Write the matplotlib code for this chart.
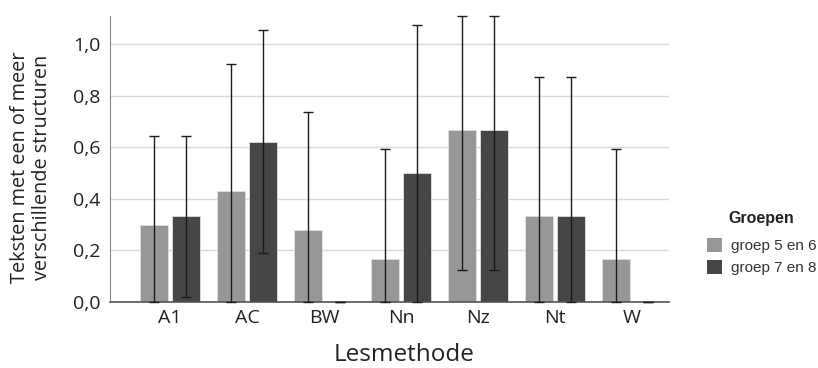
import matplotlib
matplotlib.use("Agg")
import matplotlib.pyplot as plt
import numpy as np
from matplotlib.patches import Patch

categories = ["A1", "AC", "BW", "Nn", "Nz", "Nt", "W"]
groups = ["groep 5 en 6", "groep 7 en 8"]
g56 = [0.30, 0.43, 0.28, 0.167, 0.667, 0.333, 0.167]
g78 = [0.333, 0.62, 0.0, 0.50, 0.667, 0.333, 0.0]
g56_lo = [0.0, 0.0, 0.0, 0.0, 0.124, 0.0, 0.0]
g56_hi = [0.643, 0.921, 0.736, 0.593, 1.108, 0.872, 0.593]
g78_lo = [0.02, 0.191, 0.0, 0.0, 0.124, 0.0, 0.0]
g78_hi = [0.643, 1.055, 0.0, 1.074, 1.108, 0.872, 0.0]
yticks = [0.0, 0.2, 0.4, 0.6, 0.8, 1.0]
ytick_labels = ["0,0", "0,2", "0,4", "0,6", "0,8", "1,0"]

plt.rcParams['font.family'] = ['Open Sans', 'DejaVu Sans']

fig = plt.figure(figsize=(8.18, 3.68), dpi=100)
ax = fig.add_axes([110/818, 1-302/368, (669-110)/818, (302-16)/368])

x = np.arange(len(categories))
off = 0.208
w = 0.367
colors = ["#989696", "#464648"]
for vals, lo, hi, sgn, c, lab in [(g56, g56_lo, g56_hi, -1, colors[0], groups[0]),
                                  (g78, g78_lo, g78_hi, 1, colors[1], groups[1])]:
    xs = x + sgn*off
    ax.bar(xs, vals, width=w, color=c, edgecolor="#e0e0e0", linewidth=0.6, label=lab, zorder=2)
    vals_a = np.array(vals)
    yerr = [vals_a - np.array(lo), np.array(hi) - vals_a]
    ax.errorbar(xs, vals, yerr=yerr, fmt="none", ecolor="#1a1a1a", elinewidth=1.0,
                capsize=3.5, capthick=1.0, zorder=3, clip_on=False)

ax.set_xlim(-0.78, 6.48)
ax.set_ylim(0, 1.108)
ax.set_yticks(yticks)
ax.set_yticklabels(ytick_labels, fontsize=14)
ax.set_xticks(x)
ax.set_xticklabels(categories, fontsize=14)
ax.tick_params(axis="both", length=0, colors="#222222")
ax.tick_params(axis="y", pad=7)
ax.tick_params(axis="x", pad=5)
ax.yaxis.grid(True, color="#d8d8d8", linewidth=1.0, zorder=0)
ax.set_axisbelow(True)
for s in ["top", "right"]:
    ax.spines[s].set_visible(False)
ax.spines["left"].set_color("#888888")
ax.spines["bottom"].set_color("#555555")
ax.spines["bottom"].set_linewidth(1.2)

ax.set_ylabel("Teksten met een of meer\nverschillende structuren", fontsize=14.3,
              color="#222222", linespacing=1.15, va="center", ha="center")
ax.yaxis.set_label_coords((31 - 110) / 559, (302 - 167) / 286)
ax.set_xlabel("Lesmethode", fontsize=17.5, color="#222222", va="center")
ax.xaxis.set_label_coords((404 - 110) / 559, (302 - 355) / 286)

handles = [Patch(facecolor=colors[0], edgecolor="none"),
           Patch(facecolor=colors[1], edgecolor="none")]
leg = fig.legend(handles, groups, loc="upper left", bbox_to_anchor=(707/818, 1-238/368),
                 frameon=False, prop={"family": "Liberation Sans", "size": 11},
                 handlelength=1.0, handleheight=1.0, handletextpad=0.55, labelspacing=0.45,
                 borderaxespad=0, borderpad=0)
for t in leg.get_texts():
    t.set_color("#333333")
fig.text(728/818, 1-219/368, "Groepen", family="Liberation Sans", fontweight="bold",
         fontsize=11.5, color="#222222", va="center", ha="left")

fig.savefig("out.png", dpi=100)
